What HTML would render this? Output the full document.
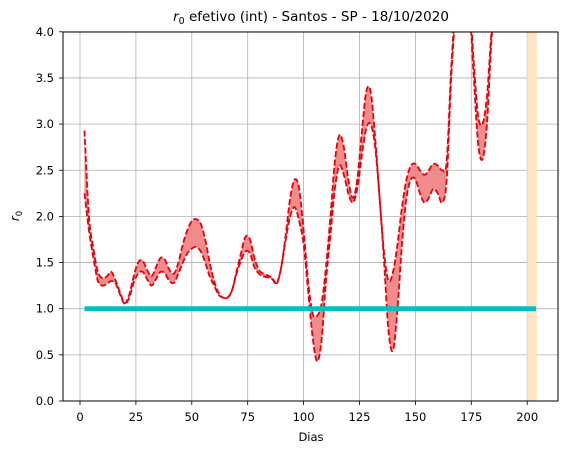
<!DOCTYPE html>
<html><head><meta charset="utf-8"><style>
body{margin:0;background:#fff;}
svg{display:block;font-family:"DejaVu Sans","Liberation Sans",sans-serif;}
</style></head><body>
<svg id="chart" width="568" height="454" viewBox="0 0 568 454" xmlns="http://www.w3.org/2000/svg">
<defs><clipPath id="clip"><rect x="63" y="32" width="495" height="369"/></clipPath></defs>
<rect x="0" y="0" width="568" height="454" fill="#fff"/>
<g id="grid"></g>
<g id="series" clip-path="url(#clip)"></g>
<rect x="63" y="32" width="495" height="369" fill="none" stroke="#000" stroke-width="1"/>
<g id="ticks"></g>
<text x="311" y="21" font-size="13.5" text-anchor="middle"><tspan font-style="italic">r</tspan><tspan font-size="9.5" dy="3">0</tspan><tspan dy="-3"> efetivo (int) - Santos - SP - 18/10/2020</tspan></text>
<text x="311" y="441" font-size="11.5" text-anchor="middle">Dias</text>
<text transform="translate(19,216) rotate(-90)" font-size="12" text-anchor="middle"><tspan font-style="italic">r</tspan><tspan font-size="8.5" dy="3">0</tspan></text>
</svg>
<script>
const days  = [2,4,6,8,10,12,14,16,18,20,22,24,26,28,30,32,34,36,38,40,42,44,46,48,50,52,54,56,58,60,62,64,66,68,70,72,74,76,78,80,82,84,86,88,90,92,94,96,98,100,102,104,106,108,110,112,114,116,118,120,122,124,126,128,130,132,134,136,138,140,142,144,146,148,150,152,154,156,158,160,162,164,166,168,170,174,176,178,180,182,184,186];
const upper = [2.93,2.0,1.65,1.4,1.33,1.35,1.4,1.3,1.17,1.06,1.15,1.35,1.5,1.52,1.42,1.35,1.45,1.55,1.53,1.42,1.38,1.5,1.7,1.85,1.95,1.97,1.92,1.75,1.5,1.3,1.17,1.12,1.12,1.2,1.4,1.6,1.78,1.75,1.55,1.42,1.38,1.36,1.33,1.28,1.45,1.8,2.2,2.4,2.3,1.85,1.3,0.95,0.92,1.05,1.45,2.0,2.6,2.88,2.75,2.4,2.2,2.4,2.9,3.35,3.35,2.85,2.2,1.6,1.3,1.4,1.7,2.1,2.4,2.55,2.57,2.5,2.45,2.5,2.57,2.55,2.5,2.6,3.6,4.3,4.6,4.35,3.7,3.1,3.0,3.3,4.0,4.6];
const lower = [2.25,1.85,1.55,1.3,1.25,1.27,1.3,1.27,1.15,1.05,1.12,1.28,1.38,1.4,1.32,1.25,1.32,1.4,1.38,1.3,1.28,1.38,1.5,1.6,1.65,1.67,1.62,1.5,1.35,1.25,1.15,1.12,1.12,1.2,1.38,1.52,1.62,1.6,1.45,1.38,1.35,1.34,1.32,1.27,1.45,1.75,2.0,2.1,1.95,1.7,1.2,0.7,0.43,0.65,1.3,1.8,2.3,2.55,2.45,2.25,2.15,2.3,2.65,2.95,3.0,2.75,2.2,1.5,0.75,0.55,1.0,1.7,2.2,2.4,2.4,2.25,2.15,2.2,2.3,2.25,2.15,2.4,3.5,4.2,4.5,4.25,3.55,2.8,2.62,3.0,3.9,4.5];
const xTicks = [0,25,50,75,100,125,150,175,200];
const yTicks = [0.0,0.5,1.0,1.5,2.0,2.5,3.0,3.5,4.0];
const refLevel = 1.0, refStart = 2, refEnd = 204;
const spanStart = 200, spanEnd = 204.3;

const X = d => 80 + (d - 0) * 2.236;
const Y = v => 401 - v * 92.3;
const NS = "http://www.w3.org/2000/svg";
function mk(tag, attrs, parent){const e=document.createElementNS(NS,tag);for(const k in attrs)e.setAttribute(k,attrs[k]);parent.appendChild(e);return e;}
function smooth(xs, ys){
  const p = xs.map((x,i)=>[X(x),Y(ys[i])]);
  let d = `M${p[0][0]},${p[0][1]}`;
  for(let i=0;i<p.length-1;i++){
    const p0=p[Math.max(0,i-1)],p1=p[i],p2=p[i+1],p3=p[Math.min(p.length-1,i+2)];
    const c1=[p1[0]+(p2[0]-p0[0])/6,p1[1]+(p2[1]-p0[1])/6];
    const c2=[p2[0]-(p3[0]-p1[0])/6,p2[1]-(p3[1]-p1[1])/6];
    d+=` C${c1[0]},${c1[1]} ${c2[0]},${c2[1]} ${p2[0]},${p2[1]}`;
  }
  return d;
}
const grid=document.getElementById('grid'), ticks=document.getElementById('ticks'), series=document.getElementById('series');
xTicks.forEach(t=>{
  const gl=mk('line',{x1:X(t),x2:X(t),y1:32,y2:401,stroke:'#b0b0b0','stroke-width':0.8},grid);
  
  
  mk('line',{x1:X(t),x2:X(t),y1:401,y2:405,stroke:'#000','stroke-width':0.8},ticks);
  const tx=mk('text',{x:X(t),y:421,'font-size':11.5,'text-anchor':'middle'},ticks);
  tx.textContent=t;
  
  
});
yTicks.forEach(t=>{
  const gl=mk('line',{x1:63,x2:558,y1:Y(t),y2:Y(t),stroke:'#b0b0b0','stroke-width':0.8},grid);
  
  
  mk('line',{x1:59,x2:63,y1:Y(t),y2:Y(t),stroke:'#000','stroke-width':0.8},ticks);
  const tx=mk('text',{x:54,y:Y(t)+4,'font-size':11.5,'text-anchor':'end'},ticks);
  tx.textContent=t.toFixed(1);
  
  
});
const span=mk('rect',{x:X(spanStart),y:32,width:X(spanEnd)-X(spanStart),height:369,fill:'#ffe4c4'},series);


const up=smooth(days,upper);
const lo=smooth(days.slice().reverse(),lower.slice().reverse());
const band=mk('path',{d:up+' L'+lo.slice(1)+' Z',fill:'#f08080','fill-opacity':0.9},series);


const lu=mk('path',{d:up,fill:'none',stroke:'#e8000b','stroke-width':1.8,'stroke-dasharray':'6,2.5'},series);


const ll=mk('path',{d:smooth(days,lower),fill:'none',stroke:'#e8000b','stroke-width':1.8,'stroke-dasharray':'6,2.5'},series);


const ref=mk('line',{x1:X(refStart),x2:X(refEnd),y1:Y(refLevel),y2:Y(refLevel),stroke:'#00bfbf','stroke-width':5},series);


</script>
</body></html>
